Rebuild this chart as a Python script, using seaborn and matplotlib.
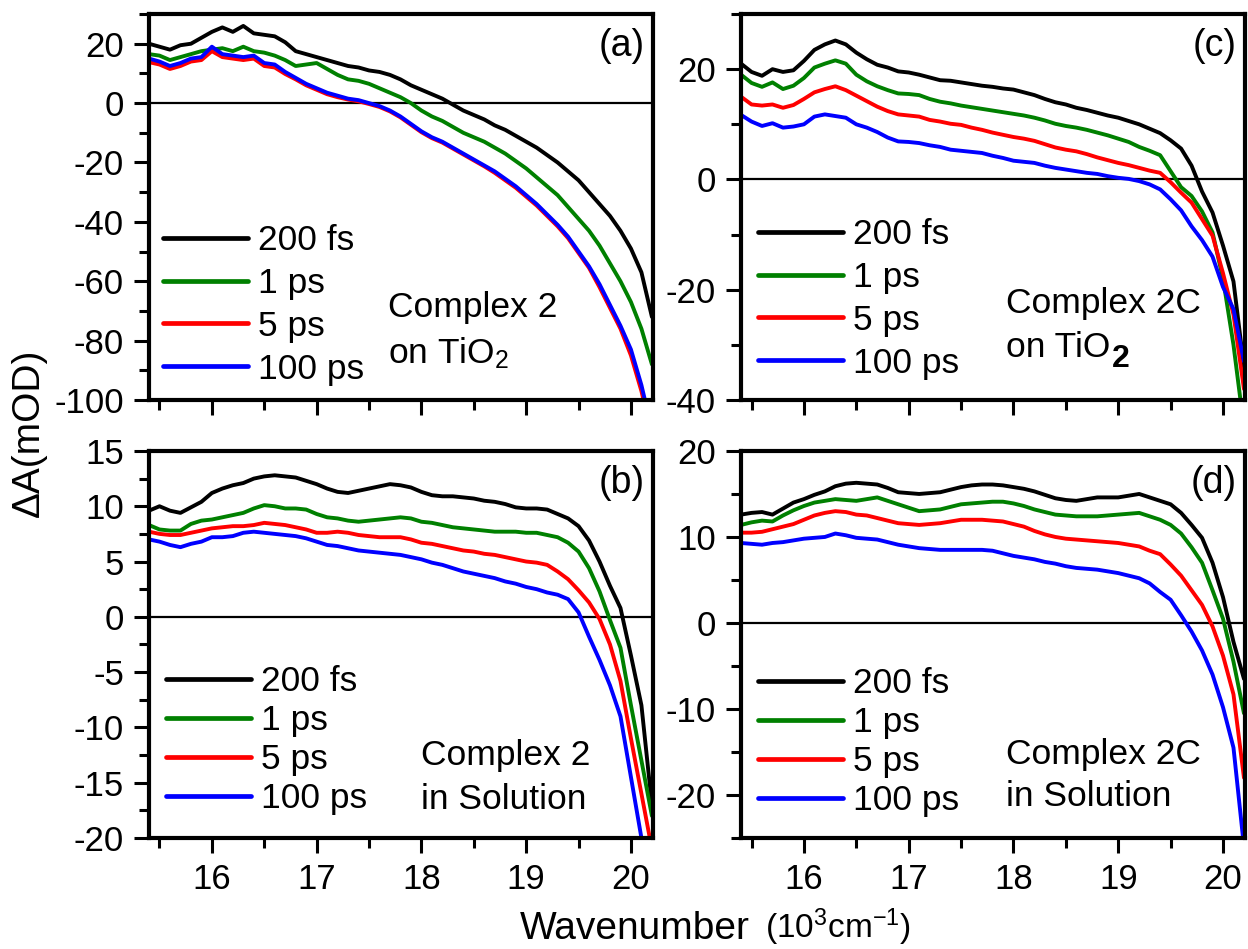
import numpy as np
import pandas as pd
import seaborn as sns
import matplotlib.pyplot as plt
from matplotlib.ticker import MultipleLocator

# Wavenumber grid (10^3 cm^-1), shared by all spectra
wavenumber = [15.4, 15.5, 15.6, 15.7, 15.8, 15.9, 16.0, 16.1, 16.2, 16.3,
              16.4, 16.5, 16.6, 16.7, 16.8, 16.9, 17.0, 17.1, 17.2, 17.3,
              17.4, 17.5, 17.6, 17.7, 17.8, 17.9, 18.0, 18.1, 18.2, 18.3,
              18.4, 18.5, 18.6, 18.7, 18.8, 18.9, 19.0, 19.1, 19.2, 19.3,
              19.4, 19.5, 19.6, 19.7, 19.8, 19.9, 20.0, 20.1, 20.2]

delays = ['200 fs', '1 ps', '5 ps', '100 ps']
colors = ['#000000', '#008000', '#ff0000', '#0000ff']

# (a) Complex 2 on TiO2
a_200fs = [20, 19, 18, 19.5, 20, 22, 24, 25.5, 24, 26,
           23.5, 23, 22.5, 20.5, 17.5, 16.5, 15.5, 14.5, 13.5, 12.5,
           12, 11, 10.5, 9.5, 8, 6, 4.5, 3, 1.5, -0.5,
           -2.5, -4, -5.5, -7.5, -9, -11, -13, -15, -17.5, -20,
           -23, -26, -30, -34, -38, -43, -49, -57, -72]
a_1ps = [16.5, 16, 14.5, 15.5, 16.5, 17.5, 18, 18.5, 17.5, 19,
         17.5, 17, 16, 14.5, 12.5, 13, 13.5, 11.5, 9.5, 8,
         7.5, 6.5, 5, 3.5, 2, 0, -2.5, -4.5, -6, -8,
         -10, -11.5, -13, -15, -17, -19.5, -22, -25, -28, -31,
         -35, -39, -43, -48, -54, -60, -67, -76, -88]
a_5ps = [13.8, 13, 11.5, 12.5, 14, 14.5, 17.5, 15.5, 15, 14.5,
         15, 12.5, 12, 9.8, 8, 6, 4.5, 3, 2, 1.2,
         0.6, -0.3, -1.3, -2.8, -4.8, -7.3, -9.8, -11.8, -13.3, -15.3,
         -17.3, -19.3, -21.3, -23.5, -26, -28.5, -31.5, -34.5, -38, -41.5,
         -45.5, -50.5, -55.5, -62, -69, -76, -85, -97, -112]
a_100ps = [15, 14, 12.5, 13.5, 15, 15.5, 19, 16.5, 16, 15.5,
           16, 13.5, 13, 10.5, 8.5, 6.5, 5, 3.5, 2.5, 1.5,
           1, 0, -1, -2.5, -4.5, -7, -9.5, -11.5, -13, -15,
           -17, -19, -21, -23, -25.5, -28, -31, -34, -37.5, -41,
           -45, -50, -55, -61, -68, -75, -83, -95, -110]

# (b) Complex 2 in solution
b_200fs = [9.6, 10, 9.6, 9.4, 9.9, 10.4, 11.2, 11.6, 11.9, 12.1,
           12.5, 12.7, 12.8, 12.7, 12.6, 12.3, 12, 11.6, 11.3, 11.2,
           11.4, 11.6, 11.8, 12, 11.9, 11.7, 11.3, 11, 10.9, 10.9,
           10.8, 10.7, 10.5, 10.4, 10.2, 9.9, 9.8, 9.8, 9.7, 9.3,
           8.9, 8.2, 6.9, 5, 2.8, 0.8, -3.5, -8, -17]
b_1ps = [8.3, 7.9, 7.8, 7.8, 8.4, 8.7, 8.8, 9, 9.2, 9.4,
         9.8, 10.1, 10, 9.8, 9.8, 9.7, 9.3, 9, 8.9, 8.7,
         8.6, 8.7, 8.8, 8.9, 9, 8.9, 8.6, 8.5, 8.3, 8.1,
         8, 7.9, 7.8, 7.7, 7.7, 7.7, 7.6, 7.6, 7.4, 7.2,
         6.7, 5.9, 4.4, 2.3, -0.3, -2.8, -8, -13, -18]
b_5ps = [7.7, 7.5, 7.4, 7.4, 7.6, 7.8, 8, 8.1, 8.2, 8.2,
         8.3, 8.5, 8.4, 8.3, 8.1, 7.9, 7.6, 7.6, 7.7, 7.6,
         7.4, 7.3, 7.2, 7.2, 7.2, 7, 6.7, 6.6, 6.4, 6.2,
         6, 5.9, 5.7, 5.6, 5.4, 5.2, 5, 4.9, 4.7, 4.1,
         3.4, 2.4, 1.3, -0.2, -2.5, -5.8, -11, -16, -21]
b_100ps = [7, 6.8, 6.5, 6.3, 6.6, 6.8, 7.2, 7.2, 7.3, 7.6,
           7.7, 7.6, 7.5, 7.4, 7.3, 7.1, 6.8, 6.5, 6.4, 6.2,
           6, 5.9, 5.8, 5.7, 5.6, 5.4, 5.2, 4.9, 4.7, 4.4,
           4.1, 3.9, 3.7, 3.5, 3.2, 3, 2.7, 2.5, 2.2, 2,
           1.6, 0.4, -1.8, -3.9, -6.2, -9, -14.5, -20, -26]

# (c) Complex 2C on TiO2
c_200fs = [21, 19.5, 18.8, 20, 19.5, 19.8, 21.5, 23.5, 24.5, 25.2,
           24.5, 23, 21.8, 20.8, 20.3, 19.6, 19.4, 19, 18.5, 18,
           17.9, 17.6, 17.3, 17, 16.8, 16.5, 16.3, 15.8, 15.3, 14.6,
           14, 13.6, 13, 12.6, 12.1, 11.6, 11.2, 10.6, 10, 9.2,
           8.4, 7.1, 5.6, 2.5, -2.2, -6, -12, -18.5, -34]
c_1ps = [19, 17.5, 16.8, 17.6, 16.4, 17, 18.4, 20.3, 21, 21.6,
         21, 19, 17.8, 16.9, 16.2, 15.6, 15.5, 15.3, 14.6, 14.1,
         13.8, 13.4, 13.1, 12.8, 12.5, 12.2, 11.9, 11.6, 11.2, 10.7,
         10.1, 9.7, 9.4, 9, 8.5, 8, 7.4, 6.8, 5.9, 5.2,
         4.4, 1.5, -1.4, -3, -5.8, -9.6, -18, -30, -45]
c_5ps = [15, 13.6, 13.4, 13.6, 13, 13.5, 14.6, 15.8, 16.4, 16.9,
         16.2, 15.2, 14.2, 13.2, 12.4, 11.8, 11.6, 11.4, 10.8, 10.5,
         10.1, 9.9, 9.4, 9, 8.5, 8.1, 7.7, 7.4, 7, 6.4,
         5.8, 5.4, 5.1, 4.6, 4, 3.5, 3, 2.6, 2.1, 1.6,
         1.2, -0.5, -2.4, -4.2, -7.2, -10.2, -17, -24.5, -38]
c_100ps = [11.7, 10.5, 9.7, 10.2, 9.4, 9.6, 10, 11.4, 11.8, 11.5,
           11.2, 10, 9.4, 8.6, 7.6, 6.9, 6.8, 6.6, 6.2, 5.9,
           5.4, 5.2, 5, 4.8, 4.3, 3.9, 3.4, 3.2, 3, 2.5,
           2.1, 1.8, 1.5, 1.2, 1, 0.6, 0.3, 0.1, -0.3, -0.9,
           -1.8, -3.6, -5.6, -8.5, -11, -14, -19.5, -23.5, -33]

# (d) Complex 2C in solution
d_200fs = [12.6, 12.8, 12.9, 12.6, 13.3, 14, 14.4, 14.9, 15.3, 15.9,
           16.2, 16.3, 16.2, 16.1, 15.7, 15.2, 15.1, 15, 15.1, 15.2,
           15.5, 15.8, 16, 16.1, 16.1, 16, 15.8, 15.6, 15.3, 14.9,
           14.5, 14.3, 14.2, 14.4, 14.6, 14.6, 14.6, 14.8, 15, 14.6,
           14.2, 13.8, 12.8, 11.4, 9.9, 7, 3, -2.2, -6.5]
d_1ps = [11.4, 11.7, 11.9, 11.8, 12.5, 13.1, 13.6, 14, 14.2, 14.4,
         14.3, 14.2, 14.4, 14.6, 14.2, 13.8, 13.4, 13, 13.1, 13.2,
         13.5, 13.8, 13.9, 14, 14.1, 14.1, 13.9, 13.6, 13.2, 12.9,
         12.6, 12.5, 12.4, 12.4, 12.4, 12.5, 12.6, 12.7, 12.8, 12.4,
         12, 11.4, 10.4, 8.8, 7, 3.8, 0.5, -4.5, -10.5]
d_5ps = [10.5, 10.5, 10.6, 10.9, 11.2, 11.5, 12, 12.5, 12.8, 13,
         12.9, 12.6, 12.5, 12.2, 11.9, 11.6, 11.5, 11.4, 11.5, 11.6,
         11.8, 12, 12, 12, 11.9, 11.8, 11.5, 11.2, 10.7, 10.3,
         10, 9.8, 9.7, 9.6, 9.5, 9.4, 9.3, 9.1, 8.9, 8.4,
         8, 6.8, 5.5, 3.8, 2.1, -0.4, -3.8, -8.3, -18]
d_100ps = [9.3, 9.2, 9.1, 9.3, 9.4, 9.6, 9.8, 9.9, 10, 10.4,
           10.2, 9.9, 9.8, 9.7, 9.4, 9.1, 8.9, 8.7, 8.6, 8.5,
           8.5, 8.5, 8.5, 8.5, 8.4, 8.1, 7.8, 7.6, 7.4, 7.1,
           6.9, 6.6, 6.4, 6.3, 6.2, 6, 5.8, 5.5, 5.2, 4.6,
           3.6, 2.7, 0.9, -1, -3.2, -6, -9.8, -14.5, -26]

sns.set_style('ticks')
plt.rcParams['font.family'] = ['Liberation Sans', 'DejaVu Sans']
plt.rcParams['mathtext.fontset'] = 'custom'
plt.rcParams['mathtext.rm'] = 'Liberation Sans'
plt.rcParams['mathtext.bf'] = 'Liberation Sans:bold'
plt.rcParams['mathtext.it'] = 'Liberation Sans:italic'
plt.rcParams['axes.unicode_minus'] = False
plt.rcParams['axes.edgecolor'] = 'black'
plt.rcParams['xtick.color'] = 'black'
plt.rcParams['ytick.color'] = 'black'
plt.rcParams['text.color'] = 'black'


def make_frame(series):
    return pd.DataFrame({
        'wavenumber': wavenumber * len(series),
        'dA': sum(series, []),
        'delay': np.repeat(delays, len(wavenumber)),
    })


panels = {
    'a': dict(series=[a_200fs, a_1ps, a_5ps, a_100ps], rect=[0.1194, 0.5785, 0.4038, 0.4067],
              ylim=(-100, 30), major=20, minor=10, xlabels=False,
              note=['Complex 2', 'on TiO$_2$'], note_x=0.474, note_y=(0.215, 0.096),
              leg=(0.028, 0.456), leg_space=0.28),
    'b': dict(series=[b_200fs, b_1ps, b_5ps, b_100ps], rect=[0.1194, 0.1170, 0.4038, 0.4078],
              ylim=(-20, 15), major=5, minor=2.5, xlabels=True,
              note=['Complex 2', 'in Solution'], note_x=0.54, note_y=(0.189, 0.075),
              leg=(0.034, 0.447), leg_space=0.17),
    'c': dict(series=[c_200fs, c_1ps, c_5ps, c_100ps], rect=[0.5938, 0.5785, 0.4038, 0.4067],
              ylim=(-40, 30), major=20, minor=10, xlabels=False,
              note=['Complex 2C', 'on TiO'], note_x=0.526, note_y=(0.225, 0.111),
              leg=(0.034, 0.4715), leg_space=0.28),
    'd': dict(series=[d_200fs, d_1ps, d_5ps, d_100ps], rect=[0.5938, 0.1170, 0.4038, 0.4078],
              ylim=(-25, 20), major=10, minor=5, xlabels=True,
              note=['Complex 2C', 'in Solution'], note_x=0.526, note_y=(0.191, 0.083),
              leg=(0.034, 0.442), leg_space=0.17),
}

fig = plt.figure(figsize=(12.48, 9.49), dpi=100)

for tag, p in panels.items():
    ax = fig.add_axes(p['rect'])
    ax.axhline(0, color='black', lw=1.6, zorder=1)
    sns.lineplot(data=make_frame(p['series']), x='wavenumber', y='dA', hue='delay',
                 hue_order=delays, palette=colors, lw=2.8, legend=False,
                 errorbar=None, sort=False, ax=ax)
    ax.set_xlim(15.4, 20.21)
    ax.set_ylim(*p['ylim'])
    ax.xaxis.set_major_locator(MultipleLocator(1))
    ax.xaxis.set_minor_locator(MultipleLocator(0.5))
    ax.yaxis.set_major_locator(MultipleLocator(p['major']))
    ax.yaxis.set_minor_locator(MultipleLocator(p['minor']))
    ax.tick_params(which='major', direction='out', length=10.5, width=2.2, labelsize=25, pad=7.5)
    ax.tick_params(which='minor', direction='out', length=7, width=2.2)
    if not p['xlabels']:
        ax.tick_params(axis='x', labelbottom=False)
    ax.set_xlabel('')
    ax.set_ylabel('')
    for s in ax.spines.values():
        s.set_linewidth(3)
        s.set_color('black')

    data_lines = ax.lines[-4:]
    leg = ax.legend(data_lines, delays, loc='upper left', bbox_to_anchor=p['leg'],
                    frameon=False, fontsize=25.5, handlelength=2.4, handletextpad=0.28,
                    labelspacing=p['leg_space'], borderpad=0, borderaxespad=0)
    for ln in leg.get_lines():
        ln.set_linewidth(3.4)
        ln.set_solid_capstyle('round')

    ax.text(0.984, 0.965, '(' + tag + ')', transform=ax.transAxes, ha='right', va='top', fontsize=27)
    ax.text(p['note_x'], p['note_y'][0], p['note'][0], transform=ax.transAxes, fontsize=25.5, va='baseline')
    t2 = ax.text(p['note_x'], p['note_y'][1], p['note'][1], transform=ax.transAxes, fontsize=25.5, va='baseline')
    if tag == 'c':
        # bold, lowered "2" of TiO2 as in the original panel
        ax.annotate('2', xy=(1, 0), xycoords=t2, xytext=(1, -2), textcoords='offset points',
                    ha='left', va='baseline', fontsize=23, fontweight='bold')

fig.text(0.0232, 0.5437, 'ΔA(mOD)', rotation=90, ha='center', va='center', fontsize=28)
fig.text(0.601, 0.011, 'Wavenumber', ha='right', va='baseline', fontsize=28)
fig.text(0.613, 0.011, '(10$^3$cm$^{-1}$)', ha='left', va='baseline', fontsize=24)

fig.savefig('out.png', dpi=100)
